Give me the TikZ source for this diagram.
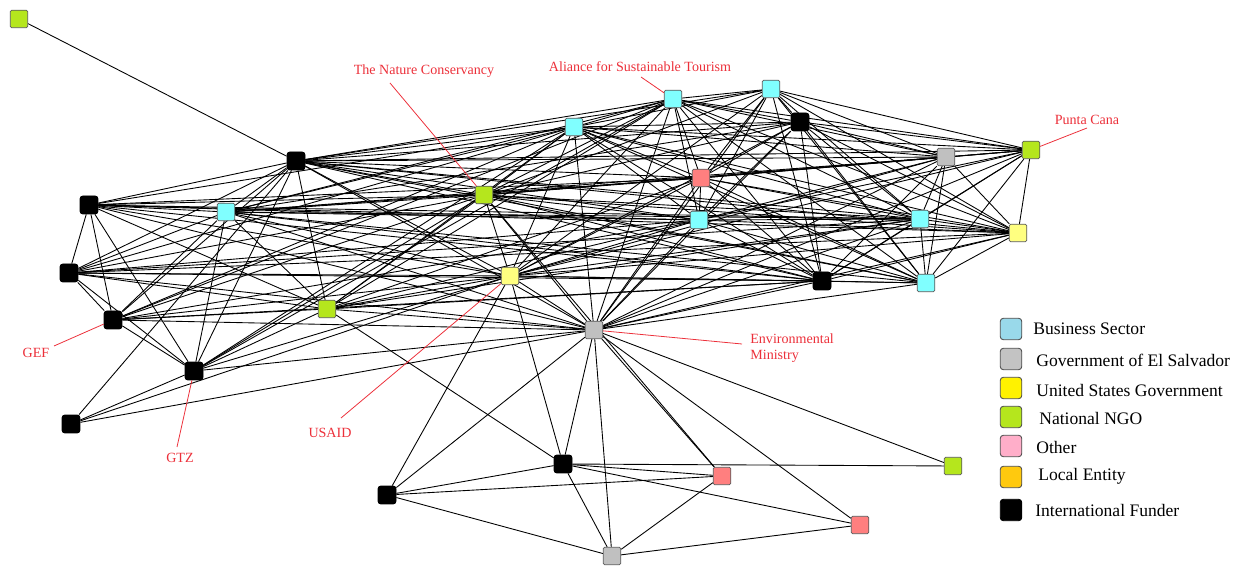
\documentclass[tikz,border=0pt]{standalone}
\usepackage{fontspec}
\setmainfont{Liberation Serif}
\usetikzlibrary{backgrounds}
% node fills
\definecolor{ngo}{RGB}{181,230,29}
\definecolor{biz}{RGB}{128,255,255}
\definecolor{usg}{RGB}{255,255,128}
\definecolor{gov}{RGB}{192,192,192}
\definecolor{oth}{RGB}{255,127,127}
% legend fills
\definecolor{lbiz}{RGB}{153,217,234}
\definecolor{lgov}{RGB}{195,195,195}
\definecolor{lusg}{RGB}{255,242,0}
\definecolor{lngo}{RGB}{181,230,29}
\definecolor{loth}{RGB}{255,174,201}
\definecolor{lloc}{RGB}{255,201,14}
\definecolor{lblred}{RGB}{236,48,58}
\begin{document}
\begin{tikzpicture}[x=0.02cm,y=-0.02cm,
  actor/.style={rectangle,minimum size=0.35cm,inner sep=0pt,draw=black!65,line width=0.45pt,rounded corners=0.8pt},
  ngo/.style={actor,fill=ngo},
  biz/.style={actor,fill=biz},
  usg/.style={actor,fill=usg},
  gov/.style={actor,fill=gov},
  oth/.style={actor,fill=oth},
  fund/.style={actor,fill=black,draw=black,minimum size=0.36cm,rounded corners=1.6pt},
  edge/.style={draw=black,line width=0.5pt},
  lead/.style={draw=lblred,line width=0.45pt},
  lbl/.style={text=lblred,font=\fontsize{8}{9.5}\selectfont,inner sep=0pt},
  key/.style={rectangle,minimum size=0.43cm,inner sep=0pt,draw=black!70,line width=0.5pt,rounded corners=1.8pt},
  keytext/.style={anchor=west,inner sep=0pt,font=\fontsize{10}{12}\selectfont}
]
\useasboundingbox (0,0) rectangle (1248,567);

% actors
\node[ngo]  (g1)  at (19,19) {};
\node[fund] (b2)  at (296,161) {};
\node[fund] (b3)  at (89,205) {};
\node[biz]  (c4)  at (226,212) {};
\node[fund] (b5)  at (69,273) {};
\node[fund] (b6)  at (113,320) {};
\node[ngo]  (g7)  at (327,309) {};
\node[fund] (b8)  at (194,371) {};
\node[fund] (b9)  at (71,424) {};
\node[ngo]  (g10) at (484,195) {};
\node[usg]  (y11) at (510,276) {};
\node[gov]  (s12) at (594,330) {};
\node[biz]  (c13) at (574,127) {};
\node[biz]  (c14) at (673,99) {};
\node[biz]  (c15) at (771,89) {};
\node[fund] (b16) at (800,122) {};
\node[oth]  (p17) at (701,178) {};
\node[biz]  (c18) at (699,220) {};
\node[gov]  (s19) at (946,157) {};
\node[ngo]  (g20) at (1031,150) {};
\node[biz]  (c21) at (920,219) {};
\node[usg]  (y22) at (1018,233) {};
\node[fund] (b23) at (822,281) {};
\node[biz]  (c24) at (926,283) {};
\node[fund] (b25) at (563,464) {};
\node[oth]  (p26) at (722,476) {};
\node[ngo]  (g27) at (953,466) {};
\node[fund] (b28) at (387,495) {};
\node[oth]  (p29) at (860,525) {};
\node[gov]  (s30) at (612,556) {};

% ties between actors
\begin{scope}[on background layer]
\foreach \a/\b in {
 g1/b2,
 b2/b3, b2/c4, b2/b5, b2/b6, b2/b8, b2/b9, b2/g7, b2/g10, b2/y11, b2/s12, b2/c13, b2/c14, b2/c15, b2/b16, b2/p17, b2/c18, b2/s19, b2/g20, b2/c21, b2/y22, b2/b23, b2/c24,
 b3/b5, b3/b6, b3/b8, b3/c4, b3/g10, b3/y11, b3/s12, b3/c13, b3/p17, b3/c18, b3/c21, b3/y22, b3/b23, b3/g7,
 c4/b5, c4/b6, c4/b8, c4/g7, c4/g10, c4/y11, c4/s12, c4/c13, c4/c14, c4/p17, c4/c18, c4/c21, c4/b23, c4/c24, c4/s19, c4/b16,
 b5/b6, b5/b8, b5/g7, b5/g10, b5/y11, b5/s12, b5/c13, b5/c18, b5/b23, b5/c21, b5/y22,
 b6/b8, b6/g7, b6/g10, b6/y11, b6/s12, b6/c13, b6/c14, b6/c18, b6/b23,
 b8/g7, b8/g10, b8/y11, b8/s12, b8/c13, b8/c14, b8/b9,
 b9/y11, b9/s12,
 g7/g10, g7/y11, g7/s12, g7/c13, g7/c14, g7/p17, g7/c18, g7/b23, g7/c21, g7/b25,
 g10/y11, g10/s12, g10/c13, g10/c14, g10/c15, g10/b16, g10/p17, g10/c18, g10/s19, g10/g20, g10/c21, g10/y22, g10/b23, g10/c24, g10/p26,
 y11/s12, y11/c13, y11/c14, y11/c15, y11/b16, y11/p17, y11/c18, y11/s19, y11/g20, y11/c21, y11/y22, y11/b23, y11/c24, y11/b25, y11/b28,
 s12/c13, s12/c14, s12/c15, s12/b16, s12/p17, s12/c18, s12/s19, s12/g20, s12/c21, s12/y22, s12/b23, s12/c24, s12/b25, s12/p26, s12/g27, s12/b28, s12/p29, s12/s30,
 c13/c14, c13/c15, c13/b16, c13/p17, c13/c18, c13/s19, c13/g20, c13/c21, c13/y22, c13/b23, c13/c24,
 c14/c15, c14/b16, c14/p17, c14/c18, c14/s19, c14/g20, c14/c21, c14/y22, c14/b23, c14/c24,
 c15/b16, c15/p17, c15/c18, c15/s19, c15/g20, c15/c21, c15/y22, c15/b23, c15/c24,
 b16/p17, b16/c18, b16/s19, b16/g20, b16/c21, b16/y22, b16/b23, b16/c24,
 p17/c18, p17/s19, p17/g20, p17/c21, p17/y22, p17/b23, p17/c24,
 c18/s19, c18/g20, c18/c21, c18/y22, c18/b23, c18/c24,
 s19/g20, s19/c21, s19/y22, s19/b23, s19/c24,
 g20/c21, g20/y22, g20/b23, g20/c24,
 c21/y22, c21/b23, c21/c24,
 y22/b23, y22/c24,
 b23/c24,
 b25/p26, b25/g27, b25/p29, b25/s30, b28/b25, b28/p26, b28/s30, p26/s30, p29/s30}
 \draw[edge] (\a) -- (\b);
\end{scope}

% named actors
\node[lbl] (tnc) at (424,71) {The Nature Conservancy};
\coordinate (tncend) at (390,83);
\draw[lead] (tncend) -- (g10);
\node[lbl] (ast) at (640,67) {Aliance for Sustainable Tourism};
\coordinate (astend) at (641,77);
\draw[lead] (astend) -- (c14);
\node[lbl] (pc) at (1087,120) {Punta Cana};
\coordinate (pcend) at (1087,128);
\draw[lead] (pcend) -- (g20);
\node[lbl,anchor=west] (env) at (750,339) {Environmental};
\node[lbl,anchor=west] (min) at (750,356) {Ministry};
\coordinate (envend) at (742,344);
\draw[lead] (envend) -- (s12);
\node[lbl] (gef) at (36,353) {GEF};
\coordinate (gefend) at (54,346);
\draw[lead] (gefend) -- (b6);
\node[lbl] (gtz) at (180,458) {GTZ};
\coordinate (gtzend) at (177,447);
\draw[lead] (gtzend) -- (b8);
\node[lbl] (usaid) at (330,433) {USAID};
\coordinate (usaidend) at (341,418);
\draw[lead] (usaidend) -- (y11);

% legend
\node[key,fill=lbiz] (k1) at (1011,329) {};
\node[keytext] (t1) at (1033,329) {Business Sector};
\node[key,fill=lgov] (k2) at (1011,359) {};
\node[keytext] (t2) at (1036,360) {Government of El Salvador};
\node[key,fill=lusg] (k3) at (1011,388) {};
\node[keytext] (t3) at (1036,390) {United States Government};
\node[key,fill=lngo] (k4) at (1011,417) {};
\node[keytext] (t4) at (1039,418) {National NGO};
\node[key,fill=loth] (k5) at (1011,446) {};
\node[keytext] (t5) at (1036,447) {Other};
\node[key,fill=lloc] (k6) at (1011,477) {};
\node[keytext] (t6) at (1038,476) {Local Entity};
\node[key,fill=black,draw=black] (k7) at (1011,510) {};
\node[keytext] (t7) at (1035,510) {International Funder};
\end{tikzpicture}
\end{document}
